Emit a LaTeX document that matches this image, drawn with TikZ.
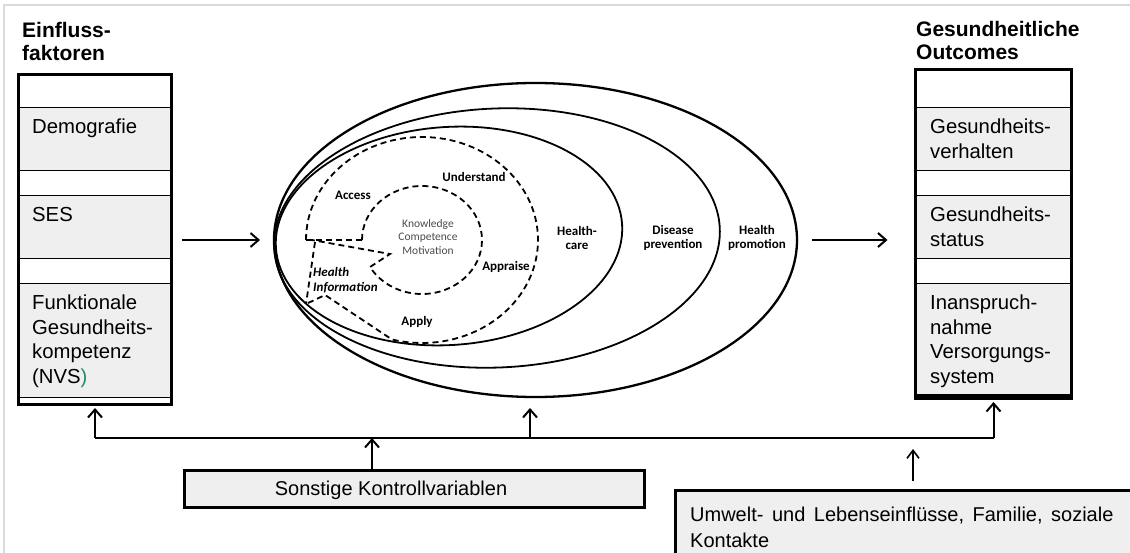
\documentclass[tikz,border=0pt]{standalone}
\usepackage{fontspec}
\setmainfont{Liberation Sans}
\newfontfamily\calfont{Carlito}
\usetikzlibrary{arrows.meta,shapes.geometric,calc}
\definecolor{boxgrey}{RGB}{239,239,239}
\definecolor{framegrey}{RGB}{218,218,218}
\definecolor{nvsgreen}{RGB}{30,140,110}
\definecolor{kcmgrey}{RGB}{75,75,75}
\begin{document}
\begin{tikzpicture}[x=1pt,y=-1pt,
  thickbox/.style={draw=black,line width=3pt,inner sep=0pt,outer sep=0pt},
  band/.style={draw=black,line width=0.9pt,fill=boxgrey},
  arr/.style={line width=2pt,-{Straight Barb[length=8pt,width=14pt,line width=2pt]}},
  arrthin/.style={line width=1.6pt,-{Straight Barb[length=8pt,width=12pt,line width=1.6pt]}},
  conn/.style={line width=2pt},
  dsh/.style={line width=1.8pt,dash pattern=on 6pt off 4pt},
  ell/.style={draw,ellipse,inner sep=0pt,outer sep=0pt,line width=1.8pt},
  lbl/.style={font=\calfont\bfseries\fontsize{13}{14.5}\selectfont,align=center,inner sep=0pt},
  kcm/.style={font=\calfont\fontsize{11.5}{13.8}\selectfont,align=center,inner sep=0pt,text=kcmgrey},
  ltxt/.style={font=\fontsize{20.3}{24.5}\selectfont,align=left,anchor=north west,inner sep=0pt},
  btxt/.style={font=\fontsize{20}{26}\selectfont,align=left,inner sep=0pt},
  ttl/.style={font=\bfseries\fontsize{21}{23.5}\selectfont,align=left,anchor=north west,inner sep=0pt}
]
\useasboundingbox (0,0) rectangle (1130,553);
% frame
\draw[framegrey,line width=2pt] (4,553) -- (4,5) -- (1130,5);

% titles
\node[ttl] (tl) at (22,22) {Einfluss-\\faktoren};
\node[ttl] (tr) at (916,21) {Gesundheitliche\\Outcomes};

% left box
\fill[white] (18.5,74.5) rectangle (171.5,404.5);
\draw[band] (18.5,107) rectangle (171.5,170);
\draw[band] (18.5,195) rectangle (171.5,258);
\draw[band] (18.5,283) rectangle (171.5,397);
\node[thickbox,minimum width=153,minimum height=330] (L) at (95,239.5) {};
\node[ltxt] (l1) at (32,118.7) {Demografie};
\node[ltxt] (l2) at (32,206.7) {SES};
\node[ltxt] (l3) at (32,294.7) {Funktionale\\Gesundheits-\\kompetenz\\(NVS\textcolor{nvsgreen}{)}};

% right box
\fill[white] (915.5,69.5) rectangle (1071.5,398.5);
\draw[band] (915.5,107) rectangle (1071.5,170);
\draw[band] (915.5,195) rectangle (1071.5,258);
\draw[band] (915.5,283) rectangle (1071.5,394);
\node[thickbox,minimum width=156,minimum height=329] (R) at (993.5,234) {};
\draw[line width=2.5pt] (915.5,396) -- (1071.5,396);
\node[ltxt] (r1) at (930,118.7) {Gesundheits-\\verhalten};
\node[ltxt] (r2) at (930,206.7) {Gesundheits-\\status};
\node[ltxt] (r3) at (930,294.7) {Inanspruch-\\nahme\\Versorgungs-\\system};

% ellipses
\node[ell,line width=2.3pt,minimum width=523,minimum height=314] (E) at (535.5,240) {};
\node[ell,rotate=2.5,minimum width=446,minimum height=259] (E2) at (497,238) {};
\node[ell,rotate=4,minimum width=347,minimum height=218] (E3) at (449,236) {};

% dashed HLS model
\draw[dsh] (306,240) arc[start angle=180,end angle=465,x radius=116,y radius=103]
  -- (325,295) -- (306,304);
\draw[dsh] (362,240) arc[start angle=180,end angle=510,x radius=60,y radius=54]
  -- (390,254) -- (312,240);
\draw[dsh] (306,240) -- (362,240);
\draw[dsh] (315,242) -- (306,304);

% labels inside ellipses
\node[lbl] (access) at (353,195) {Access};
\node[lbl] (underst) at (474,177) {Understand};
\node[kcm] (kcmt) at (428,237) {Knowledge\\Competence\\Motivation};
\node[lbl] (appr) at (506,267) {Appraise};
\node[lbl,align=left,anchor=west,font=\calfont\bfseries\itshape\fontsize{13}{15}\selectfont] (hinf) at (313,280) {Health\\Information};
\node[lbl] (apply) at (417,322) {Apply};
\node[lbl] (hc) at (577,238) {Health-\\care};
\node[lbl] (dp) at (673,238) {Disease\\prevention};
\node[lbl] (hp) at (757,238) {Health\\promotion};

% main arrows
\draw[arr] ([xshift=10pt]L.east |- E.west) -- ([xshift=-14pt]E.west);
\draw[arr] ([xshift=15pt]E.east) -- ([xshift=-28pt]R.west |- E.east);

% bottom boxes
\node[thickbox,fill=boxgrey,minimum width=460,minimum height=37] (S) at (414,489) {};
\node[btxt] (stxt) at (391,490) {Sonstige Kontrollvariablen};
\node[thickbox,fill=boxgrey,minimum width=470,minimum height=76] (U) at (910.5,528) {};
\node[btxt,anchor=north west] (utxt) at (690,506.7) {Umwelt-\hspace{3pt} und\hspace{3pt} Lebenseinflüsse,\hspace{3pt} Familie,\hspace{3pt} soziale\\Kontakte};

% bus and arrows
\coordinate (bus) at (0,438);
\draw[conn] (L.south |- bus) -- (R.south |- bus);
\draw[arr] (L.south |- bus) -- ([yshift=-3.5pt]L.south);
\draw[arr] ([xshift=-5.5pt]E.south |- bus) -- ([xshift=-5.5pt,yshift=-11pt]E.south);
\draw[arr] (R.south |- bus) -- ([yshift=-3.5pt]R.south);
\draw[arr] ([xshift=-42pt]S.north) -- ([xshift=-42pt]S.north |- bus);
\coordinate (fa1) at (913,481);
\coordinate (fa2) at (913,449);
\draw[arrthin] (fa1) -- (fa2);
\end{tikzpicture}
\end{document}
